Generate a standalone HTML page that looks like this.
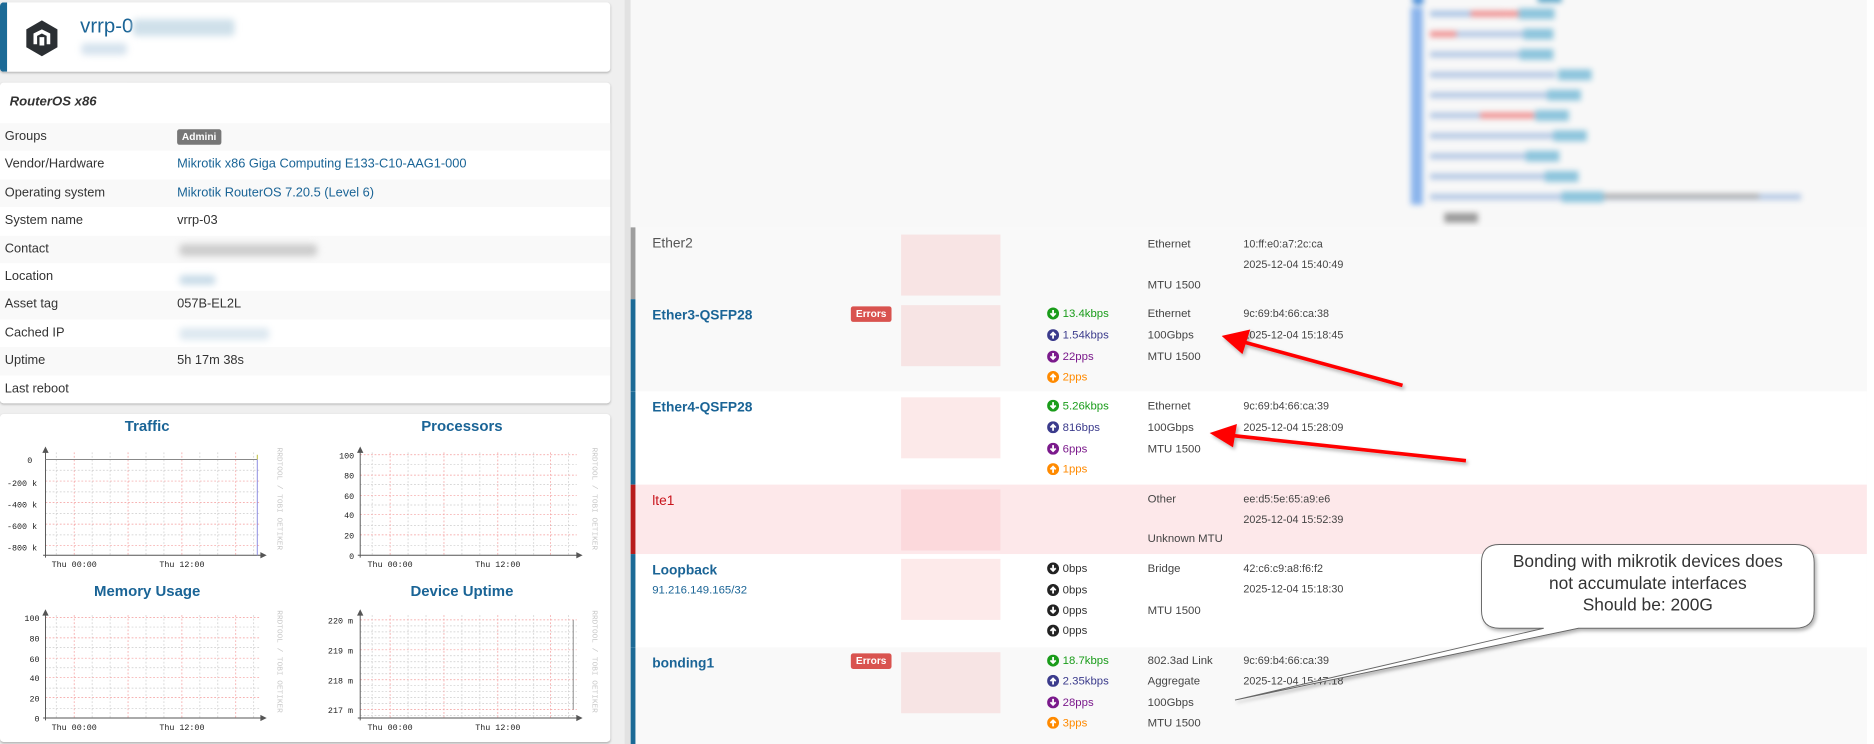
<!DOCTYPE html>
<html><head><meta charset="utf-8"><style>
*{margin:0;padding:0;box-sizing:border-box}
html,body{width:1874px;height:744px;overflow:hidden;background:#efefef}
#s{position:absolute;left:0;top:0;width:1566px;height:622px;transform:scale(1.19668);transform-origin:0 0;font-family:"Liberation Sans",sans-serif;color:#333}
.a{position:absolute}
.card{position:absolute;background:#fff;border-radius:3px;box-shadow:0 1px 2px rgba(0,0,0,.25)}
.row{position:absolute;left:0;width:510px;height:23.4px;font-size:10.7px;line-height:23.4px}
.row span{position:absolute}
.l{left:4px}.v{left:148px}
.lnk{color:#1a6496}
.blur{position:absolute;filter:blur(3px);border-radius:3px}
.tr{position:absolute;left:527px;width:1033px}
.nm{position:absolute;left:14px;top:8px;font-size:11.5px;font-weight:bold;color:#1a6496}
.pk{position:absolute;left:222px;width:83px;height:51px;background:#f8e4e4}
.err{position:absolute;left:180px;width:34px;height:13px;background:#d9534f;color:#fff;font-size:8.5px;font-weight:bold;border-radius:2px;text-align:center;line-height:13px}
.st{position:absolute;left:344px;font-size:9.5px;line-height:11px;white-space:nowrap}
.st svg{vertical-align:-2px;margin-right:3px}
.c3,.c4{position:absolute;font-size:9.5px;color:#444;white-space:nowrap}
.c3{left:428px}.c4{left:508px;font-size:9px}
</style></head><body><div id="s">
<div class="card" style="left:0;top:2px;width:510px;height:58px;border-left:6px solid #1c6a96">
 <svg class="a" style="left:14px;top:14px" width="30" height="32" viewBox="0 0 30 32"><polygon points="15,1 28,8.5 28,23.5 15,31 2,23.5 2,8.5" fill="#2b2f33"/><path d="M8 12 L15 8.5 L22 12 V21 H19 V14 L15 12 L11 14 V21 H8Z M13 15 h4 v7 h-4z" fill="#fff"/></svg>
 <div class="a" style="left:61px;top:10px;font-size:17px;color:#1a6496">vrrp-0</div>
 <div class="blur" style="left:105px;top:14px;width:85px;height:14px;background:#cfe0ea"></div>
 <div class="blur" style="left:62px;top:34px;width:38px;height:10px;background:#d6e3ee"></div>
</div>
<div class="card" style="left:0;top:69px;width:510px;height:268px">
 <div class="a" style="left:8px;top:10px;font-size:11px;font-weight:bold;font-style:italic">RouterOS x86</div>
</div>
<div class="row" style="top:103px;background:#f9f9f9"><span class="l">Groups</span><span class="v" style="top:5px;height:13px;line-height:13px;padding:0 4px;background:#777;color:#fff;font-size:8.5px;font-weight:bold;border-radius:2px">Admini</span></div>
<div class="row" style="top:126.4px;background:#fff"><span class="l">Vendor/Hardware</span><span class="v lnk">Mikrotik x86 Giga Computing E133-C10-AAG1-000</span></div>
<div class="row" style="top:149.8px;background:#f9f9f9"><span class="l">Operating system</span><span class="v lnk">Mikrotik RouterOS 7.20.5 (Level 6)</span></div>
<div class="row" style="top:173.2px;background:#fff"><span class="l">System name</span><span class="v">vrrp-03</span></div>
<div class="row" style="top:196.6px;background:#f9f9f9"><span class="l">Contact</span><span class="blur" style="left:150px;top:7px;width:115px;height:10px;background:#ccc"></span></div>
<div class="row" style="top:220px;background:#fff"><span class="l">Location</span><span class="blur" style="left:150px;top:10px;width:30px;height:8px;background:#c8dbe8"></span></div>
<div class="row" style="top:243.4px;background:#f9f9f9"><span class="l">Asset tag</span><span class="v">057B-EL2L</span></div>
<div class="row" style="top:266.8px;background:#fff"><span class="l">Cached IP</span><span class="blur" style="left:150px;top:7px;width:75px;height:10px;background:#dde8f0"></span></div>
<div class="row" style="top:290.2px;background:#f9f9f9"><span class="l">Uptime</span><span class="v">5h 17m 38s</span></div>
<div class="row" style="top:313.6px;background:#fff;border-radius:0 0 3px 3px"><span class="l">Last reboot</span></div>
<div class="card" style="left:0;top:346px;width:510px;height:274px"></div>
<svg class="a" style="left:0;top:340px" width="520" height="282" viewBox="0 340 520 282" font-family="Liberation Mono,monospace">
<g font-family="Liberation Sans,sans-serif" font-weight="bold" font-size="12.5" fill="#1a6496" text-anchor="middle">
<text x="123" y="360">Traffic</text><text x="386" y="360">Processors</text>
<text x="123" y="498">Memory Usage</text><text x="386" y="498">Device Uptime</text></g>
<g stroke-width="0.6" stroke-dasharray="1.5 1.5" fill="none">
 <g stroke="#ccc"><path d="M47 378V464M77 378V464M92 378V464M122 378V464M137 378V464M167 378V464M182 378V464M212 378V464M38 393H218M38 411H218M38 429H218M38 447H218"/></g>
 <g stroke="#f49a9a"><path d="M62 378V464M107 378V464M152 378V464M197 378V464M38 402H218M38 420H218M38 438H218M38 456H218"/></g>
 <g stroke="#ccc"><path d="M311 378V464M341 378V464M356 378V464M386 378V464M401 378V464M431 378V464M446 378V464M475 378V464M301 388H482M301 405H482M301 422H482M301 439H482M301 456H482"/></g>
 <g stroke="#f49a9a"><path d="M326 378V464M371 378V464M416 378V464M460 378V464M301 380H482M301 397H482M301 414H482M301 430H482M301 447H482"/></g>
 <g stroke="#ccc"><path d="M47 514V600M77 514V600M92 514V600M122 514V600M137 514V600M167 514V600M182 514V600M212 514V600M38 524H218M38 541H218M38 558H218M38 575H218M38 592H218"/></g>
 <g stroke="#f49a9a"><path d="M62 514V600M107 514V600M152 514V600M197 514V600M38 516H218M38 533H218M38 550H218M38 566H218M38 583H218"/></g>
 <g stroke="#ccc"><path d="M311 514V600M341 514V600M356 514V600M386 514V600M401 514V600M431 514V600M446 514V600M475 514V600M301 523H482M301 528H482M301 533H482M301 538H482M301 548H482M301 553H482M301 558H482M301 563H482M301 573H482M301 578H482M301 583H482M301 588H482M301 598H482"/></g>
 <g stroke="#f49a9a"><path d="M326 514V600M371 514V600M416 514V600M460 514V600M301 518H482M301 543H482M301 568H482M301 593H482"/></g>
</g>
<g stroke="#555" stroke-width="0.8" fill="#555">
 <path d="M38 378V466M36 464H219" fill="none"/><path d="M38 374l-2 4h4zM222 464l-4-2v4z"/>
 <path d="M301 378V466M299 464H483" fill="none"/><path d="M301 374l-2 4h4zM486 464l-4-2v4z"/>
 <path d="M38 514V602M36 600H219" fill="none"/><path d="M38 510l-2 4h4zM222 600l-4-2v4z"/>
 <path d="M301 514V602M299 600H483" fill="none"/><path d="M301 510l-2 4h4zM486 600l-4-2v4z"/>
</g>
<path d="M38 384H215" stroke="#888" stroke-width="0.8"/>
<path d="M215 384V464" stroke="#8a8ae0" stroke-width="0.8"/>
<path d="M215 380V384" stroke="#bb3" stroke-width="0.8"/>
<path d="M479 518V593" stroke="#888" stroke-width="0.8"/>
<g font-size="7" fill="#222" text-anchor="end">
 <text x="27" y="387">0</text><text x="31" y="406">-200 k</text><text x="31" y="424">-400 k</text><text x="31" y="442">-600 k</text><text x="31" y="460">-800 k</text>
 <text x="296" y="383">100</text><text x="296" y="400">80</text><text x="296" y="417">60</text><text x="296" y="433">40</text><text x="296" y="450">20</text><text x="296" y="467">0</text>
 <text x="33" y="519">100</text><text x="33" y="536">80</text><text x="33" y="553">60</text><text x="33" y="569">40</text><text x="33" y="586">20</text><text x="33" y="603">0</text>
 <text x="295" y="521">220 m</text><text x="295" y="546">219 m</text><text x="295" y="571">218 m</text><text x="295" y="596">217 m</text>
</g>
<g font-size="7" fill="#222" text-anchor="middle">
 <text x="62" y="474">Thu 00:00</text><text x="152" y="474">Thu 12:00</text>
 <text x="326" y="474">Thu 00:00</text><text x="416" y="474">Thu 12:00</text>
 <text x="62" y="610">Thu 00:00</text><text x="152" y="610">Thu 12:00</text>
 <text x="326" y="610">Thu 00:00</text><text x="416" y="610">Thu 12:00</text>
</g>
<g font-size="6.5" fill="#c8c8c8">
 <text transform="translate(232,374) rotate(90)">RRDTOOL / TOBI OETIKER</text>
 <text transform="translate(495,374) rotate(90)">RRDTOOL / TOBI OETIKER</text>
 <text transform="translate(232,510) rotate(90)">RRDTOOL / TOBI OETIKER</text>
 <text transform="translate(495,510) rotate(90)">RRDTOOL / TOBI OETIKER</text>
</g>
</svg>

<div class="a" style="left:522px;top:0;width:5px;height:622px;background:#e2e2e2"></div>
<div class="a" style="left:527px;top:0;width:1039px;height:622px;background:#f8f8f8"></div>
<div class="a" style="left:1560px;top:0;width:6px;height:622px;background:#fff"></div>
<div class="a" style="left:1175px;top:0;width:340px;height:190px;filter:blur(2.5px)">
 <div class="a" style="left:5px;top:-4px;width:10px;height:8px;background:#4a8ed8;border-radius:5px"></div>
 <div class="a" style="left:110px;top:-4px;width:20px;height:6px;background:#5aa5c8"></div>
 <div class="a" style="left:4px;top:6px;width:10px;height:165px;background:#8ab4ec"></div>
 <div class="a" style="left:20px;top:9px;width:60px;height:5px;background:#aac4e4"></div><div class="a" style="left:54px;top:9px;width:40px;height:5px;background:#f09090"></div><div class="a" style="left:94px;top:7px;width:30px;height:9px;background:#8cc4dc"></div>
 <div class="a" style="left:20px;top:26px;width:90px;height:5px;background:#b4c8e4"></div><div class="a" style="left:20px;top:26px;width:22px;height:5px;background:#f09090"></div><div class="a" style="left:98px;top:24px;width:25px;height:9px;background:#8cc4dc"></div>
 <div class="a" style="left:20px;top:43px;width:85px;height:5px;background:#b4c8e4"></div><div class="a" style="left:95px;top:41px;width:28px;height:9px;background:#8cc4dc"></div>
 <div class="a" style="left:20px;top:60px;width:105px;height:5px;background:#b4c8e4"></div><div class="a" style="left:127px;top:58px;width:28px;height:9px;background:#8cc4dc"></div>
 <div class="a" style="left:20px;top:77px;width:100px;height:5px;background:#b4c8e4"></div><div class="a" style="left:118px;top:75px;width:28px;height:9px;background:#8cc4dc"></div>
 <div class="a" style="left:20px;top:94px;width:95px;height:5px;background:#b4c8e4"></div><div class="a" style="left:62px;top:94px;width:45px;height:5px;background:#f09090"></div><div class="a" style="left:108px;top:92px;width:28px;height:9px;background:#8cc4dc"></div>
 <div class="a" style="left:20px;top:111px;width:110px;height:5px;background:#b4c8e4"></div><div class="a" style="left:123px;top:109px;width:28px;height:9px;background:#8cc4dc"></div>
 <div class="a" style="left:20px;top:128px;width:90px;height:5px;background:#b4c8e4"></div><div class="a" style="left:100px;top:126px;width:28px;height:9px;background:#8cc4dc"></div>
 <div class="a" style="left:20px;top:145px;width:110px;height:5px;background:#b4c8e4"></div><div class="a" style="left:116px;top:143px;width:28px;height:9px;background:#8cc4dc"></div>
 <div class="a" style="left:20px;top:162px;width:310px;height:5px;background:#b4c8e4"></div><div class="a" style="left:130px;top:160px;width:35px;height:9px;background:#8cc4dc"></div><div class="a" style="left:165px;top:162px;width:130px;height:4px;background:#aaa"></div>
 <div class="a" style="left:32px;top:178px;width:28px;height:8px;background:#999"></div>
</div>

<div class="tr" style="top:190px;height:60px;background:#f9f9f9;border-left:4px solid #9e9e9e">
 <div class="nm" style="color:#555;font-weight:normal">Ether2</div>
 <div class="pk" style="top:6px"></div>
 <div class="c3" style="top:9px">Ethernet</div><div class="c3" style="top:43px">MTU 1500</div>
 <div class="c4" style="top:9px">10:ff:e0:a7:2c:ca</div><div class="c4" style="top:26px">2025-12-04 15:40:49</div>
</div>
<div class="tr" style="top:250px;height:77px;background:#f9f9f9;border-left:4px solid #1c6a96">
 <div class="nm">Ether3-QSFP28</div><div class="err" style="top:6px">Errors</div>
 <div class="pk" style="top:5px;background:#f7e4e4"></div>
 <div class="st" style="top:7px;color:#1a9c1a"><svg width="10" height="10"><circle cx="5" cy="5" r="5" fill="#1a9c1a"/><path d="M5 2v5M2.8 4.8L5 7 7.2 4.8" stroke="#fff" stroke-width="1.5" fill="none"/></svg>13.4kbps</div>
 <div class="st" style="top:25px;color:#3b3b8c"><svg width="10" height="10"><circle cx="5" cy="5" r="5" fill="#3b3b8c"/><path d="M5 8V3M2.8 5.2L5 3 7.2 5.2" stroke="#fff" stroke-width="1.5" fill="none"/></svg>1.54kbps</div>
 <div class="st" style="top:43px;color:#7b1a8c"><svg width="10" height="10"><circle cx="5" cy="5" r="5" fill="#7b1a8c"/><path d="M5 2v5M2.8 4.8L5 7 7.2 4.8" stroke="#fff" stroke-width="1.5" fill="none"/></svg>22pps</div>
 <div class="st" style="top:60px;color:#ff8a00"><svg width="10" height="10"><circle cx="5" cy="5" r="5" fill="#ff8a00"/><path d="M5 8V3M2.8 5.2L5 3 7.2 5.2" stroke="#fff" stroke-width="1.5" fill="none"/></svg>2pps</div>
 <div class="c3" style="top:7px">Ethernet</div><div class="c3" style="top:25px">100Gbps</div><div class="c3" style="top:43px">MTU 1500</div>
 <div class="c4" style="top:7px">9c:69:b4:66:ca:38</div><div class="c4" style="top:25px">2025-12-04 15:18:45</div>
</div>
<div class="tr" style="top:327px;height:78px;background:#fff;border-left:4px solid #1c6a96">
 <div class="nm">Ether4-QSFP28</div>
 <div class="pk" style="top:5px;background:#fce9e9"></div>
 <div class="st" style="top:7px;color:#1a9c1a"><svg width="10" height="10"><circle cx="5" cy="5" r="5" fill="#1a9c1a"/><path d="M5 2v5M2.8 4.8L5 7 7.2 4.8" stroke="#fff" stroke-width="1.5" fill="none"/></svg>5.26kbps</div>
 <div class="st" style="top:25px;color:#3b3b8c"><svg width="10" height="10"><circle cx="5" cy="5" r="5" fill="#3b3b8c"/><path d="M5 8V3M2.8 5.2L5 3 7.2 5.2" stroke="#fff" stroke-width="1.5" fill="none"/></svg>816bps</div>
 <div class="st" style="top:43px;color:#7b1a8c"><svg width="10" height="10"><circle cx="5" cy="5" r="5" fill="#7b1a8c"/><path d="M5 2v5M2.8 4.8L5 7 7.2 4.8" stroke="#fff" stroke-width="1.5" fill="none"/></svg>6pps</div>
 <div class="st" style="top:60px;color:#ff8a00"><svg width="10" height="10"><circle cx="5" cy="5" r="5" fill="#ff8a00"/><path d="M5 8V3M2.8 5.2L5 3 7.2 5.2" stroke="#fff" stroke-width="1.5" fill="none"/></svg>1pps</div>
 <div class="c3" style="top:7px">Ethernet</div><div class="c3" style="top:25px">100Gbps</div><div class="c3" style="top:43px">MTU 1500</div>
 <div class="c4" style="top:7px">9c:69:b4:66:ca:39</div><div class="c4" style="top:25px">2025-12-04 15:28:09</div>
</div>
<div class="tr" style="top:405px;height:58px;background:#fde8ea;border-left:4px solid #b71c1c">
 <div class="nm" style="color:#c9141c;font-weight:normal">lte1</div>
 <div class="pk" style="top:4px;background:#fcd9dc"></div>
 <div class="c3" style="top:7px">Other</div><div class="c3" style="top:40px">Unknown MTU</div>
 <div class="c4" style="top:7px">ee:d5:5e:65:a9:e6</div><div class="c4" style="top:24px">2025-12-04 15:52:39</div>
</div>
<div class="tr" style="top:463px;height:78px;background:#fff;border-left:4px solid #1c6a96">
 <div class="nm">Loopback</div>
 <div class="a" style="left:14px;top:25px;font-size:9.5px;color:#1a6496">91.216.149.165/32</div>
 <div class="pk" style="top:4px;background:#fdeaea"></div>
 <div class="st" style="top:7px;color:#333"><svg width="10" height="10"><circle cx="5" cy="5" r="5" fill="#222"/><path d="M5 2v5M2.8 4.8L5 7 7.2 4.8" stroke="#fff" stroke-width="1.5" fill="none"/></svg>0bps</div>
 <div class="st" style="top:25px;color:#333"><svg width="10" height="10"><circle cx="5" cy="5" r="5" fill="#222"/><path d="M5 8V3M2.8 5.2L5 3 7.2 5.2" stroke="#fff" stroke-width="1.5" fill="none"/></svg>0bps</div>
 <div class="st" style="top:42px;color:#333"><svg width="10" height="10"><circle cx="5" cy="5" r="5" fill="#222"/><path d="M5 2v5M2.8 4.8L5 7 7.2 4.8" stroke="#fff" stroke-width="1.5" fill="none"/></svg>0pps</div>
 <div class="st" style="top:59px;color:#333"><svg width="10" height="10"><circle cx="5" cy="5" r="5" fill="#222"/><path d="M5 8V3M2.8 5.2L5 3 7.2 5.2" stroke="#fff" stroke-width="1.5" fill="none"/></svg>0pps</div>
 <div class="c3" style="top:7px">Bridge</div><div class="c3" style="top:42px">MTU 1500</div>
 <div class="c4" style="top:7px">42:c6:c9:a8:f6:f2</div><div class="c4" style="top:24px">2025-12-04 15:18:30</div>
</div>
<div class="tr" style="top:541px;height:81px;background:#f9f9f9;border-left:4px solid #1c6a96">
 <div class="nm">bonding1</div><div class="err" style="top:5px">Errors</div>
 <div class="pk" style="top:4px;background:#f7e4e4"></div>
 <div class="st" style="top:6px;color:#1a9c1a"><svg width="10" height="10"><circle cx="5" cy="5" r="5" fill="#1a9c1a"/><path d="M5 2v5M2.8 4.8L5 7 7.2 4.8" stroke="#fff" stroke-width="1.5" fill="none"/></svg>18.7kbps</div>
 <div class="st" style="top:23px;color:#3b3b8c"><svg width="10" height="10"><circle cx="5" cy="5" r="5" fill="#3b3b8c"/><path d="M5 8V3M2.8 5.2L5 3 7.2 5.2" stroke="#fff" stroke-width="1.5" fill="none"/></svg>2.35kbps</div>
 <div class="st" style="top:41px;color:#7b1a8c"><svg width="10" height="10"><circle cx="5" cy="5" r="5" fill="#7b1a8c"/><path d="M5 2v5M2.8 4.8L5 7 7.2 4.8" stroke="#fff" stroke-width="1.5" fill="none"/></svg>28pps</div>
 <div class="st" style="top:58px;color:#ff8a00"><svg width="10" height="10"><circle cx="5" cy="5" r="5" fill="#ff8a00"/><path d="M5 8V3M2.8 5.2L5 3 7.2 5.2" stroke="#fff" stroke-width="1.5" fill="none"/></svg>3pps</div>
 <div class="c3" style="top:6px">802.3ad Link</div><div class="c3" style="top:23px">Aggregate</div><div class="c3" style="top:41px">100Gbps</div><div class="c3" style="top:58px">MTU 1500</div>
 <div class="c4" style="top:6px">9c:69:b4:66:ca:39</div><div class="c4" style="top:23px">2025-12-04 15:47:18</div>
</div>

<svg class="a" style="left:0;top:0" width="1566" height="622">
 <defs><filter id="sh" x="-10%" y="-10%" width="130%" height="140%"><feDropShadow dx="1.5" dy="2" stdDeviation="1.5" flood-color="#000" flood-opacity=".3"/></filter></defs>
 <g stroke="#f00" stroke-width="3" fill="#f00" filter="url(#sh)">
  <path d="M1172 322L1040 286" fill="none"/><path d="M1022 281L1044 276L1038 295Z" stroke-width="1"/>
  <path d="M1225 385L1030 364" fill="none"/><path d="M1012 362L1033 355L1030 373Z" stroke-width="1"/>
 </g>
 <path d="M1253 455H1500Q1516 455 1516 470V510Q1516 525 1500 525H1319L1032 585L1290 525H1253Q1238 525 1238 510V470Q1238 455 1253 455Z" fill="#fff" stroke="#666" stroke-width="0.8" filter="url(#sh)"/>
 <g font-family="Liberation Sans,sans-serif" font-size="14.5" fill="#333" text-anchor="middle">
  <text x="1377" y="474">Bonding with mikrotik devices does</text>
  <text x="1377" y="492">not accumulate interfaces</text>
  <text x="1377" y="510">Should be: 200G</text>
 </g>
</svg>
</div></body></html>
